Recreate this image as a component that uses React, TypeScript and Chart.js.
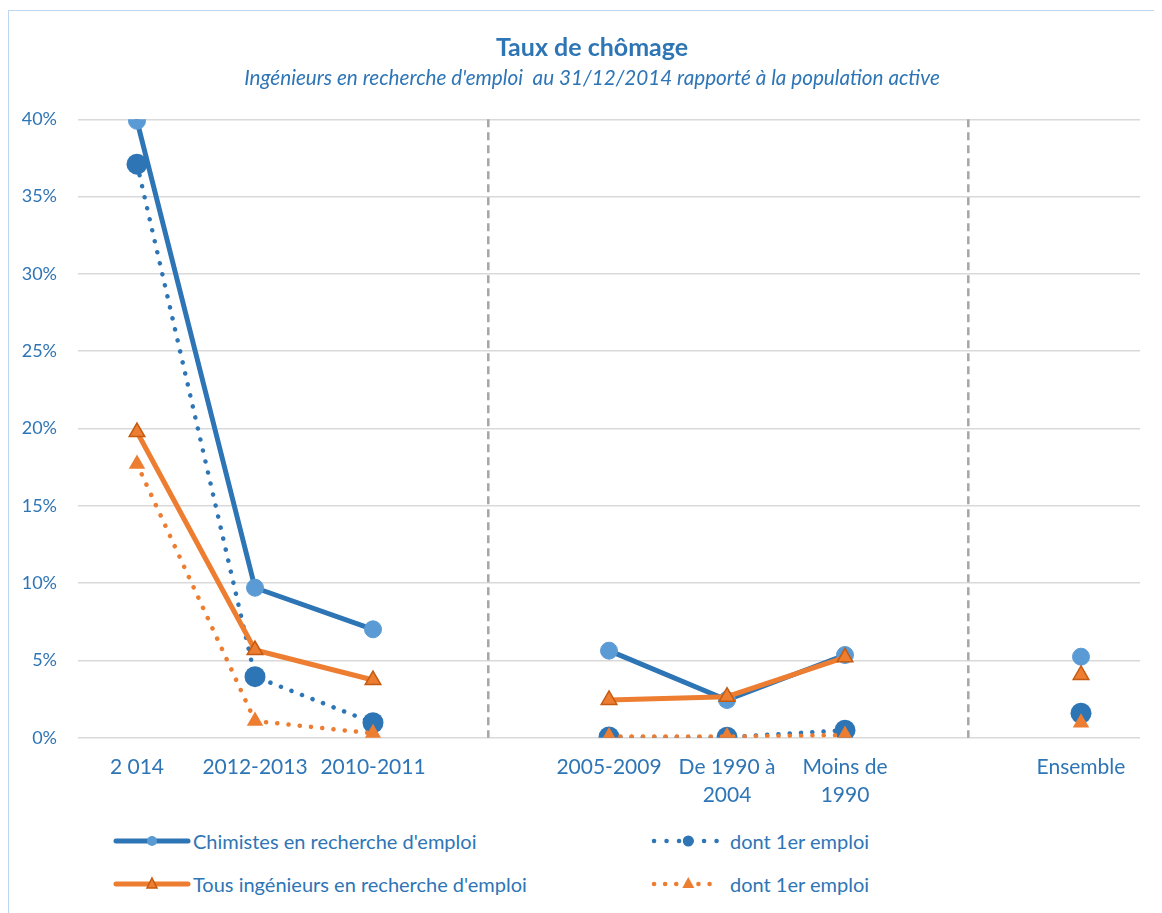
import React, { useEffect, useRef } from 'react';
import { Chart, registerables } from 'chart.js';

Chart.register(...registerables);

// ---- data ----
const categories: (string | string[])[] = [
  '2 014',
  '2012-2013',
  '2010-2011',
  '',
  '2005-2009',
  ['De 1990 à', '2004'],
  ['Moins de', '1990'],
  '',
  'Ensemble',
];
const chimistes = [0.399, 0.097, 0.0701, null, 0.0563, 0.0244, 0.0535, null, 0.0524];
const chimistes1er = [0.371, 0.0395, 0.0097, null, 0.0005, 0.0003, 0.0048, null, 0.0158];
const tous = [0.1977, 0.0567, 0.0373, null, 0.0244, 0.0265, 0.052, null, 0.0406];
const tous1er = [0.177, 0.0108, 0.0028, null, 0.0007, 0.0007, 0.0017, null, 0.0097];
const yMax = 0.4;
const yStep = 0.05;
const separators = [2.977, 7.045];
const titleText = 'Taux de chômage';
const subtitleText = "Ingénieurs en recherche d'emploi  au 31/12/2014 rapporté à la population active";
const legendLabels = [
  "Chimistes en recherche d'emploi",
  "Tous ingénieurs en recherche d'emploi",
  'dont 1er emploi',
  'dont 1er emploi',
];

const BLUE = '#2E75B6';
const LIGHT_BLUE = '#5B9BD5';
const ORANGE = '#ED7D31';
const DARK_ORANGE = '#C55A11';
const TEXT = '#2E75B6';
const FONT = "Lato, 'Noto Sans', sans-serif";

const separatorPlugin = {
  id: 'separators',
  beforeDatasetsDraw(chart: any) {
    const { ctx, chartArea, scales } = chart;
    const x = scales.x;
    ctx.save();
    ctx.strokeStyle = '#A6A6A6';
    ctx.lineWidth = 2.5;
    ctx.setLineDash([8, 5]);
    separators.forEach((v) => {
      const px = x.getPixelForValue(v);
      ctx.beginPath();
      ctx.moveTo(px, chartArea.top);
      ctx.lineTo(px, chartArea.bottom);
      ctx.stroke();
    });
    ctx.restore();
  },
};

// Title + subtitle, centred on the whole chart frame (as in the original)
const titlePlugin = {
  id: 'frameTitles',
  afterDraw(chart: any) {
    const { ctx, chartArea } = chart;
    const cx = (chartArea.left + chartArea.right) / 2 - 17;
    ctx.save();
    ctx.fillStyle = TEXT;
    ctx.textAlign = 'center';
    ctx.textBaseline = 'middle';
    ctx.font = `bold 25px ${FONT}`;
    ctx.fillText(titleText, cx, 36.5);
    ctx.font = `italic 20.7px ${FONT}`;
    ctx.fillText(subtitleText, cx, 67.5);
    ctx.restore();
  },
};

function LegendItem({ left, top, label, kind }: { left: number; top: number; label: string; kind: number }) {
  let sym: React.ReactNode = null;
  if (kind === 0) {
    sym = (
      <svg width={80} height={20} style={{ display: 'block' }}>
        <line x1={3} y1={10} x2={75} y2={10} stroke={BLUE} strokeWidth={5} strokeLinecap="round" />
        <circle cx={39} cy={10} r={5} fill={LIGHT_BLUE} />
      </svg>
    );
  } else if (kind === 1) {
    sym = (
      <svg width={80} height={20} style={{ display: 'block' }}>
        <line x1={3} y1={10} x2={75} y2={10} stroke={ORANGE} strokeWidth={5} strokeLinecap="round" />
        <polygon points="39,4 44,14 34,14" fill={ORANGE} stroke={DARK_ORANGE} strokeWidth={1.5} />
      </svg>
    );
  } else if (kind === 2) {
    sym = (
      <svg width={82} height={20} style={{ display: 'block' }}>
        <line x1={6} y1={10} x2={69} y2={10} stroke={BLUE} strokeWidth={4.5} strokeLinecap="round" strokeDasharray="0.1 12.4" />
        <circle cx={40.3} cy={10} r={5.5} fill={BLUE} />
      </svg>
    );
  } else {
    sym = (
      <svg width={82} height={20} style={{ display: 'block' }}>
        <line x1={6} y1={10} x2={72} y2={10} stroke={ORANGE} strokeWidth={4.5} strokeLinecap="round" strokeDasharray="0.1 11" />
        <polygon points="40.3,3 46.3,14 34.3,14" fill={ORANGE} />
      </svg>
    );
  }
  return (
    <div
      style={{
        position: 'absolute',
        left,
        top: top - 14,
        height: 28,
        display: 'flex',
        alignItems: 'center',
        whiteSpace: 'nowrap',
        fontFamily: FONT,
        fontSize: 20,
        color: TEXT,
      }}
    >
      {sym}
      <span>{label}</span>
    </div>
  );
}

export default function App() {
  const ref = useRef<HTMLCanvasElement | null>(null);

  useEffect(() => {
    document.documentElement.style.overflow = 'hidden';
    document.body.style.overflow = 'hidden';
    if (!ref.current) return;
    const chart = new Chart(ref.current, {
      type: 'line',
      data: {
        labels: categories as any,
        datasets: [
          {
            label: legendLabels[0],
            data: chimistes,
            borderColor: BLUE,
            borderWidth: 5,
            borderJoinStyle: 'round',
            borderCapStyle: 'round',
            pointStyle: 'circle',
            pointRadius: 8.5,
            pointBackgroundColor: LIGHT_BLUE,
            pointBorderColor: LIGHT_BLUE,
            pointBorderWidth: 1,
            spanGaps: false,
            order: 3,
          },
          {
            label: legendLabels[2],
            data: chimistes1er,
            borderColor: BLUE,
            borderWidth: 4.5,
            borderDash: [0.1, 11.2],
            borderCapStyle: 'round',
            borderJoinStyle: 'round',
            pointStyle: 'circle',
            pointRadius: 10.5,
            pointBackgroundColor: BLUE,
            pointBorderColor: BLUE,
            pointBorderWidth: 0,
            spanGaps: false,
            order: 2,
          },
          {
            label: legendLabels[1],
            data: tous,
            borderColor: ORANGE,
            borderWidth: 5,
            borderJoinStyle: 'round',
            borderCapStyle: 'round',
            pointStyle: 'triangle',
            pointRadius: 9,
            pointBackgroundColor: ORANGE,
            pointBorderColor: DARK_ORANGE,
            pointBorderWidth: 1.5,
            spanGaps: false,
            order: 1,
          },
          {
            label: legendLabels[3],
            data: tous1er,
            borderColor: ORANGE,
            borderWidth: 4.5,
            borderDash: [0.1, 11.2],
            borderCapStyle: 'round',
            borderJoinStyle: 'round',
            pointStyle: 'triangle',
            pointRadius: 9.5,
            pointBackgroundColor: ORANGE,
            pointBorderColor: ORANGE,
            pointBorderWidth: 0,
            spanGaps: false,
            order: 0,
          },
        ],
      },
      options: {
        responsive: false,
        animation: false,
        devicePixelRatio: 1,
        layout: { padding: { left: 0, right: 19, top: 108.3, bottom: 11.3 } },
        plugins: {
          legend: { display: false },
          tooltip: { enabled: false },
          title: { display: false },
          subtitle: { display: false },
        },
        scales: {
          x: {
            type: 'category',
            offset: true,
            grid: { display: false, drawTicks: false },
            border: { display: false },
            ticks: {
              color: TEXT,
              font: { family: FONT, size: 21, lineHeight: 1.333 },
              padding: 16,
              maxRotation: 0,
              autoSkip: false,
            },
            afterFit: (s: any) => {
              s.height = 72;
            },
          },
          y: {
            min: 0,
            max: yMax,
            grid: { color: '#D9D9D9', lineWidth: 1.5, drawTicks: false },
            border: { display: false },
            ticks: {
              stepSize: yStep,
              color: TEXT,
              font: { family: FONT, size: 18 },
              padding: 21,
              callback: (v: any) => Math.round(Number(v) * 100) + '%',
            },
            afterFit: (s: any) => {
              s.width = 69;
            },
          },
        },
      },
      plugins: [separatorPlugin, titlePlugin],
    });
    return () => chart.destroy();
  }, []);

  return (
    <div
      style={{
        position: 'relative',
        top: 2,
        width: 1170,
        height: 920,
        border: '1px solid #BDD7EE',
        background: '#FFFFFF',
      }}
    >
      <canvas ref={ref} width={1150} height={810} style={{ position: 'absolute', left: 0, top: 0 }} />
      <LegendItem left={104} top={830} label={legendLabels[0]} kind={0} />
      <LegendItem left={104} top={873} label={legendLabels[1]} kind={1} />
      <LegendItem left={639} top={830} label={legendLabels[2]} kind={2} />
      <LegendItem left={639} top={873} label={legendLabels[3]} kind={3} />
    </div>
  );
}
